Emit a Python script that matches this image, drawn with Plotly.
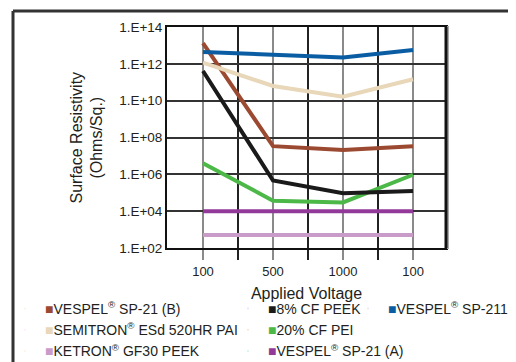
import plotly.graph_objects as go

voltages = ["100", "500", "1000", "100"]
x_pos = list(range(len(voltages)))

vespel_sp21_b = [1.35e13, 3.4e7, 2.1e7, 3.4e7]
cf8_peek = [4.1e11, 4.6e5, 9.3e4, 1.26e5]
vespel_sp211 = [4.4e12, 3.3e12, 2.2e12, 5.6e12]
semitron = [1.15e12, 6.3e10, 1.66e10, 1.45e11]
cf20_pei = [4.0e6, 3.7e4, 3.0e4, 9.5e5]
ketron = [5.1e2, 5.1e2, 5.1e2, 5.1e2]
vespel_sp21_a = [1.0e4, 1.0e4, 1.0e4, 1.0e4]

ytick_vals = [1e2, 1e4, 1e6, 1e8, 1e10, 1e12, 1e14]
ytick_text = ["1.E+02", "1.E+04", "1.E+06", "1.E+08", "1.E+10", "1.E+12", "1.E+14"]

series = [
    ("VESPEL<sup>®</sup> SP-21 (B)", vespel_sp21_b, "#9b4a31", "legend"),
    ("SEMITRON<sup>®</sup> ESd 520HR PAI", semitron, "#e8d7b9", "legend"),
    ("KETRON<sup>®</sup> GF30 PEEK", ketron, "#c99bc9", "legend"),
    ("8% CF PEEK", cf8_peek, "#1a1a1a", "legend2"),
    ("20% CF PEI", cf20_pei, "#4cb848", "legend2"),
    ("VESPEL<sup>®</sup> SP-21 (A)", vespel_sp21_a, "#93399a", "legend2"),
    ("VESPEL<sup>®</sup> SP-211", vespel_sp211, "#0a5da3", "legend3"),
]

fig = go.Figure()
draw_order = [2, 5, 4, 3, 0, 1, 6]
for i in draw_order:
    name, vals, color, _ = series[i]
    fig.add_trace(go.Scatter(x=x_pos, y=vals, mode="lines",
                             line=dict(color=color, width=4),
                             showlegend=False, hoverinfo="skip"))
for name, vals, color, leg in series:
    fig.add_trace(go.Scatter(x=[None], y=[None], mode="markers",
                             marker=dict(opacity=0, size=1),
                             name=f"<span style='color:{color}'>■</span>{name}",
                             legend=leg, showlegend=True))

# page has an 8px body margin: lay out in reference pixels minus 8
OFF = 8
W, H = 516 - OFF, 362 - OFF
x_left, x_right, y_top, y_bottom = 167 - OFF, 446 - OFF, 27 - OFF, 248 - OFF
L, R, T, B = x_left, W - x_right, y_top, H - y_bottom
pw, ph = W - L - R, H - T - B

def px(xp):
    return (xp - OFF - L) / pw

def py(yp):
    return (H - B - (yp - OFF)) / ph

legend_font = dict(family="Liberation Sans, Arial, sans-serif", size=14, color="#231f20")
leg_common = dict(orientation="v", xanchor="left", yanchor="top", font=legend_font,
                  bgcolor="rgba(0,0,0,0)", itemwidth=30, tracegroupgap=0)

fig.update_layout(
    width=W, height=H,
    margin=dict(l=L, r=R, t=T, b=B, autoexpand=False),
    paper_bgcolor="white", plot_bgcolor="white",
    font=dict(family="Liberation Sans, Arial, sans-serif", color="#231f20"),
    xaxis=dict(range=[-0.514, 3.471], tickvals=x_pos, ticktext=voltages,
               showgrid=True, gridcolor="#8a8a8a", gridwidth=2,
               ticks="outside", ticklen=10, tickcolor="#8a8a8a", tickwidth=2,
               minor=dict(tickvals=[0.5, 1.5, 2.5], showgrid=True, gridcolor="#222",
                          gridwidth=1.5, ticks="outside", ticklen=10, tickcolor="#222",
                          tickwidth=1.5),
               showline=True, linecolor="#111", linewidth=2, mirror=True,
               zeroline=False, tickfont=dict(size=13),
               title=dict(text="Applied Voltage", font=dict(size=16), standoff=10)),
    yaxis=dict(type="log", range=[2, 14], tickvals=ytick_vals, ticktext=ytick_text,
               showgrid=True, gridcolor="#333", gridwidth=1.5,
               ticks="", showline=True, linecolor="#111", linewidth=2, mirror=True,
               zeroline=False, tickfont=dict(size=13.5)),
    legend=dict(x=px(45 - 40), y=py(293), **leg_common),
    legend2=dict(x=px(268 - 40), y=py(293), **leg_common),
    legend3=dict(x=px(388 - 40), y=py(293), **leg_common),
    annotations=[dict(text="Surface Resistivity<br>(Ohms/Sq.)", x=px(86), y=0.5,
                      xref="paper", yref="paper", textangle=-90, showarrow=False,
                      font=dict(size=16), xanchor="center", yanchor="middle")],
    shapes=[
        dict(type="line", xref="paper", yref="paper", x0=px(13), x1=px(516),
             y0=py(11), y1=py(11), line=dict(color="#333", width=3)),
        dict(type="line", xref="paper", yref="paper", x0=px(13), x1=px(13),
             y0=py(11), y1=py(362), line=dict(color="#333", width=3)),
        dict(type="line", xref="paper", yref="paper", x0=px(448), x1=px(448),
             y0=py(26), y1=py(249), line=dict(color="#aaa", width=2)),
        dict(type="line", xref="paper", yref="paper", x0=1, x1=1,
             y0=0, y1=1, line=dict(color="#111", width=3)),
    ],
)

fig.write_html("out.html")
